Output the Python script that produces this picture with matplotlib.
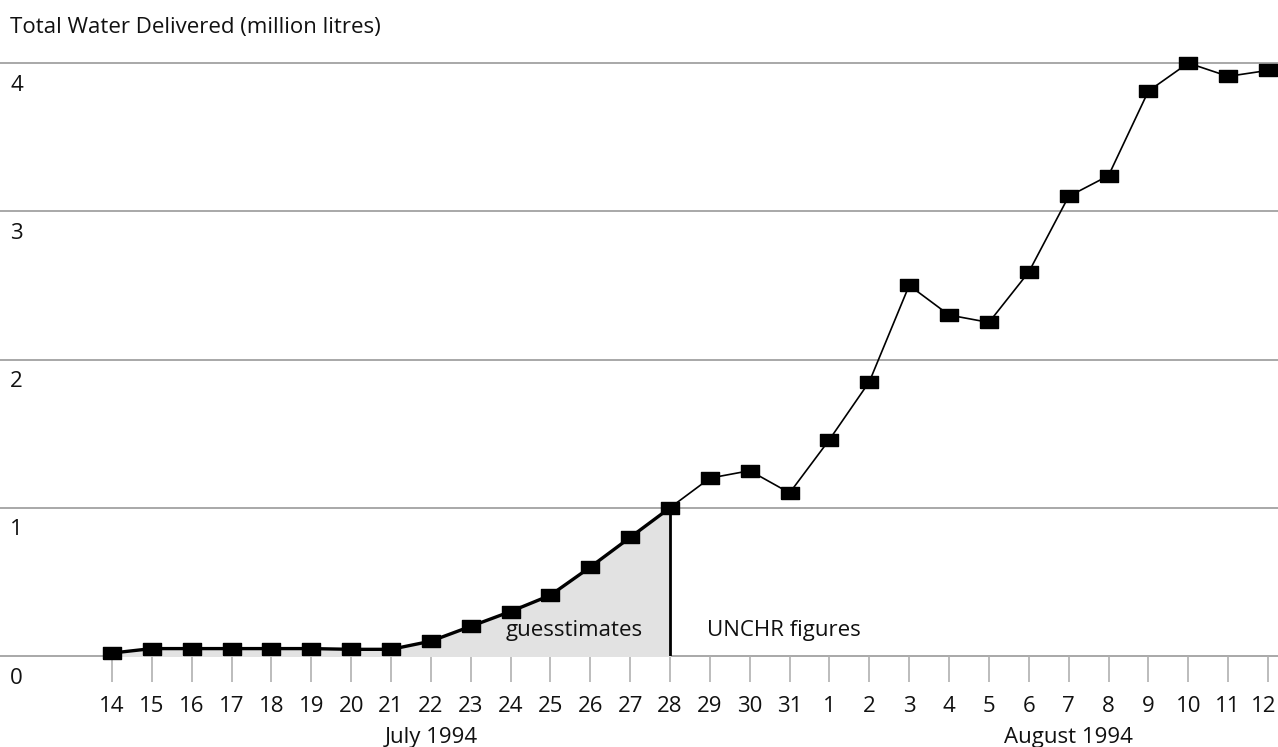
import matplotlib.pyplot as plt
import matplotlib.transforms as mtransforms
import numpy as np

plt.rcParams["font.family"] = ["Open Sans", "DejaVu Sans"]

# Data: days from 14 July to 12 August 1994
day_labels = ["14", "15", "16", "17", "18", "19", "20", "21", "22", "23", "24",
              "25", "26", "27", "28", "29", "30", "31", "1", "2", "3", "4", "5",
              "6", "7", "8", "9", "10", "11", "12"]
water = [0.02, 0.05, 0.05, 0.05, 0.05, 0.05, 0.045, 0.045, 0.10, 0.20, 0.30,
         0.41, 0.60, 0.80, 1.00, 1.20, 1.25, 1.10, 1.46, 1.85, 2.50, 2.30,
         2.25, 2.59, 3.10, 3.24, 3.81, 4.00, 3.91, 3.95]
split_idx = 14  # 28 July: guesstimates before, UNCHR figures after

x = np.arange(len(water))
y = np.array(water)

fs = 16
txt_col = "#111111"

fig = plt.figure(figsize=(12.78, 7.47), dpi=100)
ax = fig.add_axes([0, 91 / 747, 1, 593 / 747])

ax.set_xlim(-112 / 39.86, (1278 - 112) / 39.86)
ax.set_ylim(0, 4)

# gridlines with labels sitting just below them
for v in range(0, 5):
    ax.axhline(v, color="#a8a8a8", lw=1.4, zorder=1, clip_on=False)
    ax.text(0.008, v - 0.15, str(v), transform=ax.get_yaxis_transform(),
            ha="left", va="center", fontsize=fs, color=txt_col)

# shaded guesstimate area
ax.fill_between(x[:split_idx + 1], 0, y[:split_idx + 1], color="#e2e2e2", zorder=2)
ax.plot([x[split_idx], x[split_idx]], [0, y[split_idx]], color="black", lw=2, zorder=3)

rect = [(-1.5, -1), (1.5, -1), (1.5, 1), (-1.5, 1), (-1.5, -1)]
ax.plot(x[:split_idx + 1], y[:split_idx + 1], color="black", lw=2.4, zorder=4)
ax.plot(x[split_idx:], y[split_idx:], color="black", lw=1.2, zorder=4)
ax.plot(x, y, linestyle="none", marker=rect, markersize=13,
        color="black", zorder=5, clip_on=False)

ax.text(x[split_idx] - 0.68, 0.175, "guesstimates", ha="right", va="center",
        fontsize=fs, color=txt_col)
ax.text(x[split_idx] + 0.93, 0.175, "UNCHR figures", ha="left", va="center",
        fontsize=fs, color=txt_col)

# x ticks
ax.set_xticks(x)
ax.set_xticklabels(day_labels, fontsize=fs)
ax.tick_params(axis="x", direction="out", length=19, width=1.2, color="#b0b0b0",
               pad=10, labelcolor=txt_col)
# keep the last label inside the image
last = ax.get_xticklabels()[-1]
last.set_transform(last.get_transform() +
                   mtransforms.ScaledTranslation(-3 / 72, 0, fig.dpi_scale_trans))
ax.set_yticks([])
for s in ax.spines.values():
    s.set_visible(False)

ax.text(8, -0.55, "July 1994", ha="center", va="center", fontsize=fs, color=txt_col)
ax.text(24, -0.55, "August 1994", ha="center", va="center", fontsize=fs, color=txt_col)

fig.text(10 / 1278, 1 - 27 / 747, "Total Water Delivered (million litres)",
         ha="left", va="center", fontsize=fs, color=txt_col)

fig.savefig("out.png", dpi=100)
